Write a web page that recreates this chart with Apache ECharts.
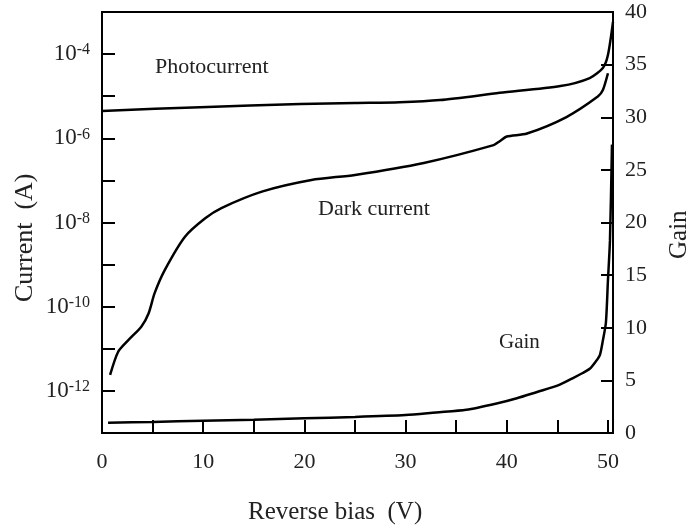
<!DOCTYPE html>
<html>
<head>
<meta charset="utf-8">
<script src="https://cdn.jsdelivr.net/npm/echarts@6/dist/echarts.min.js"></script>
<style>html,body{margin:0;padding:0;background:#fff}#c{width:691px;height:529px}</style>
</head>
<body>
<div id="c"></div>
<script>
// Reverse bias (V) and photocurrent (A)
const biasPhoto = [0, 9.7, 19.6, 25, 29.4, 33.4, 39.3, 45.3, 48.2, 49.5, 50, 50.5];
const photoCurrent = [4.47e-6, 5.5e-6, 6.5e-6, 6.9e-6, 7.2e-6, 8.1e-6, 1.2e-5, 1.74e-5, 2.7e-5, 4.7e-5, 9.5e-5, 5.8e-4];
// Dark current (A)
const biasDark = [0.8, 1.6, 2.6, 3.9, 4.6, 5.2, 6.2, 8.2, 10.2, 11.8, 15.8, 20.7, 25, 31.8, 38.7, 39.3, 40, 42, 45.9, 49, 49.5, 50];
const darkCurrent = [2.4e-12, 8.5e-12, 1.6e-11, 3.4e-11, 6.9e-11, 2.1e-10, 7.4e-10, 4.6e-9, 1.26e-8, 2.2e-8, 5.4e-8, 1.02e-7, 1.35e-7, 2.6e-7, 6.9e-7, 8.5e-7, 1.1e-6, 1.3e-6, 3.2e-6, 9.8e-6, 1.4e-5, 3.5e-5];
// Gain
const biasGain = [0.6, 5, 10, 15, 20, 25, 30, 33, 36, 39, 41, 43, 45, 46.5, 47.5, 48.2, 48.8, 49.2, 49.5, 49.8, 50.0, 50.2, 50.4];
const gain = [0.98, 1.05, 1.17, 1.27, 1.40, 1.52, 1.70, 1.95, 2.2, 2.8, 3.3, 3.9, 4.5, 5.2, 5.7, 6.1, 6.8, 7.4, 8.8, 10.5, 14.5, 18.3, 27.4];
// Labels
const xName = 'Reverse bias  (V)';
const yLeftName = 'Current  (A)';
const yRightName = 'Gain';
const notes = ['Photocurrent', 'Dark current', 'Gain'];

const FONT = '"Liberation Serif", "Times New Roman", serif';
const pair = (xs, ys) => xs.map((x, i) => [x, ys[i]]);
const chart = echarts.init(document.getElementById('c'), null, {renderer: 'canvas'});
const lineStyle = {color: '#000', width: 2.5};
chart.setOption({
  animation: false,
  backgroundColor: '#fff',
  grid: {left: 102, right: 78, top: 12, bottom: 96, show: true, borderColor: '#000', borderWidth: 2},
  xAxis: {
    type: 'value', min: 0, max: 50.5, interval: 5,
    axisLine: {show: true, lineStyle: {color: '#000', width: 2}},
    axisTick: {show: true, inside: true, length: 13, lineStyle: {color: '#000', width: 2}},
    splitLine: {show: false},
    axisLabel: {
      margin: 18, color: '#222', fontFamily: FONT, fontSize: 22, showMaxLabel: true,
      formatter: v => (Math.abs(v % 10) < 1e-9 ? String(v) : '')
    }
  },
  yAxis: [{
    type: 'log', logBase: 10, min: 1e-13, max: 1e-3, splitNumber: 10,
    axisLine: {show: true, lineStyle: {color: '#000', width: 2}},
    axisTick: {show: true, inside: true, length: 13, lineStyle: {color: '#000', width: 2}},
    splitLine: {show: false},
    axisLabel: {
      margin: 12, interval: 0, color: '#222', fontFamily: FONT,
      formatter: v => {
        const e = Math.round(Math.log10(v));
        if (e % 2 !== 0 || e === -3 || e === -13) return '';
        return '{a|10}{b|' + e + '}';
      },
      rich: {
        a: {fontFamily: FONT, fontSize: 23, color: '#222'},
        b: {fontFamily: FONT, fontSize: 16, color: '#222', verticalAlign: 'top', padding: [0, 0, 8, 0]}
      }
    }
  }, {
    type: 'value', min: 0, max: 40, interval: 5, position: 'right',
    axisLine: {show: true, lineStyle: {color: '#000', width: 2}},
    axisTick: {show: true, inside: true, length: 12, lineStyle: {color: '#000', width: 2}},
    splitLine: {show: false},
    axisLabel: {margin: 12, color: '#222', fontFamily: FONT, fontSize: 22}
  }],
  series: [{
    name: 'Photocurrent', type: 'line', yAxisIndex: 0, data: pair(biasPhoto, photoCurrent),
    showSymbol: false, smooth: 0.25, lineStyle, z: 3
  }, {
    name: 'Dark current', type: 'line', yAxisIndex: 0, data: pair(biasDark, darkCurrent),
    showSymbol: false, smooth: 0.25, lineStyle, z: 3
  }, {
    name: 'Gain', type: 'line', yAxisIndex: 1, data: pair(biasGain, gain),
    showSymbol: false, smooth: 0.25, lineStyle, z: 3
  }],
  graphic: [
    {type: 'text', left: 248, top: 500, style: {text: xName, font: '25px ' + FONT, fill: '#222'}},
    {type: 'text', x: 12, y: 302, rotation: Math.PI / 2, style: {text: yLeftName, font: '26px ' + FONT, fill: '#222'}},
    {type: 'text', x: 667, y: 259, rotation: Math.PI / 2, style: {text: yRightName, font: '25px ' + FONT, fill: '#222'}},
    {type: 'text', left: 155, top: 56, style: {text: notes[0], font: '22px ' + FONT, fill: '#222'}},
    {type: 'text', left: 318, top: 198, style: {text: notes[1], font: '22px ' + FONT, fill: '#222'}},
    {type: 'text', left: 499, top: 332, style: {text: notes[2], font: '21px ' + FONT, fill: '#222'}}
  ]
});
</script>
</body>
</html>
